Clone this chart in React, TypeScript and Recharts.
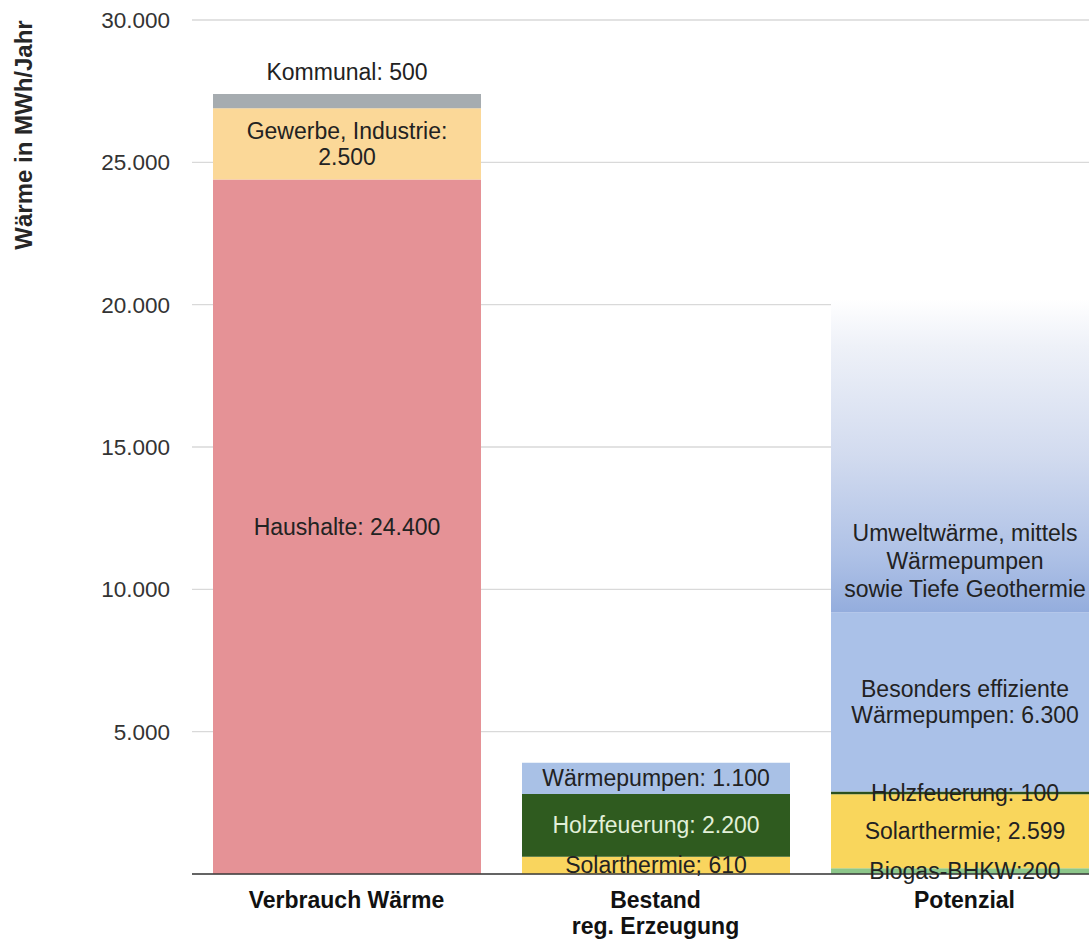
import React from 'react';
import { BarChart, Bar, XAxis, YAxis, CartesianGrid } from 'recharts';

const categories = ['Verbrauch Wärme', 'Bestand\nreg. Erzeugung', 'Potenzial'];
const haushalte = [24400, null, null];
const gewerbe = [2500, null, null];
const kommunal = [500, null, null];
const solarBestand = [null, 610, null];
const holzBestand = [null, 2200, null];
const wpBestand = [null, 1100, null];
const biogas = [null, null, 200];
const solarPot = [null, null, 2599];
const holzPot = [null, null, 100];
const wpEffizient = [null, null, 6300];
const umwelt = [null, null, 11000];
const yTicks = [5000, 10000, 15000, 20000, 25000, 30000];

const FONT = '"Liberation Sans", Arial, sans-serif';

const fmt = (v: number) => String(v).replace(/\B(?=(\d{3})+(?!\d))/g, '.');

type Series = {
  key: string;
  values: (number | null)[];
  color: string;
  text?: string;
  lines: (v: number) => string[];
  place?: 'center' | 'above' | 'bottom';
  offset?: number;
  lh?: number;
};

const series: Series[] = [
  { key: 'haushalte', values: haushalte, color: '#E59296', lines: (v) => [`Haushalte: ${fmt(v)}`] },
  { key: 'gewerbe', values: gewerbe, color: '#FBD898', lines: (v) => ['Gewerbe, Industrie:', fmt(v)], lh: 26 },
  { key: 'kommunal', values: kommunal, color: '#A6ACB0', lines: (v) => [`Kommunal: ${fmt(v)}`], place: 'above', offset: 22 },
  { key: 'solarBestand', values: solarBestand, color: '#F9D55E', lines: (v) => [`Solarthermie; ${fmt(v)}`] },
  { key: 'holzBestand', values: holzBestand, color: '#2F5B1F', text: '#E2F0D9', lines: (v) => [`Holzfeuerung: ${fmt(v)}`] },
  { key: 'wpBestand', values: wpBestand, color: '#A9C1E6', lines: (v) => [`Wärmepumpen: ${fmt(v)}`] },
  { key: 'biogas', values: biogas, color: '#8CC68A', lines: (v) => [`Biogas-BHKW:${fmt(v)}`] },
  { key: 'solarPot', values: solarPot, color: '#F9D65C', lines: (v) => [`Solarthermie; ${fmt(v)}`] },
  { key: 'holzPot', values: holzPot, color: '#2B4F1E', lines: (v) => [`Holzfeuerung: ${fmt(v)}`] },
  { key: 'wpEffizient', values: wpEffizient, color: '#AAC1E8', lines: (v) => ['Besonders effiziente', `Wärmepumpen: ${fmt(v)}`], lh: 26 },
  {
    key: 'umwelt', values: umwelt, color: 'url(#umweltGrad)',
    lines: () => ['Umweltwärme, mittels', 'Wärmepumpen', 'sowie Tiefe Geothermie'],
    place: 'bottom', offset: 51, lh: 28,
  },
];

const data = categories.map((name, i) => {
  const row: Record<string, any> = { name };
  series.forEach((s) => {
    row[s.key] = s.values[i];
  });
  return row;
});

const makeLabel = (s: Series) => (props: any) => {
  const vb = props.viewBox || props;
  const x = Number(vb.x);
  const y = Number(vb.y);
  const w = Number(vb.width);
  const h = Number(vb.height);
  if (!(h > 0.5) || !isFinite(x) || !isFinite(y)) return null;
  const v = s.values.find((d) => d != null);
  if (v == null) return null;
  const cx = x + w / 2;
  let cy = y + h / 2;
  if (s.place === 'above') cy = y - (s.offset || 0);
  if (s.place === 'bottom') cy = y + h - (s.offset || 0);
  const lines = s.lines(v);
  const lh = s.lh || 26;
  const start = cy - ((lines.length - 1) * lh) / 2;
  return (
    <text
      key={`lbl-${s.key}-${props.index}`}
      textAnchor="middle"
      fontFamily={FONT}
      fontSize={23}
      fill={s.text || '#222'}
    >
      {lines.map((ln, k) => (
        <tspan key={k} x={cx} y={start + k * lh} dy="0.35em">
          {ln}
        </tspan>
      ))}
    </text>
  );
};

const XTick = (props: any) => {
  const { x, y, payload } = props;
  const lines = String(payload.value).split('\n');
  return (
    <text textAnchor="middle" fontFamily={FONT} fontSize={23} fontWeight="bold" fill="#111">
      {lines.map((ln, k) => (
        <tspan key={k} x={x} y={y + 34 + k * 26}>
          {ln}
        </tspan>
      ))}
    </text>
  );
};

const YTick = (props: any) => {
  const { x, y, payload } = props;
  return (
    <text x={x} y={y} dy="0.35em" textAnchor="end" fontFamily={FONT} fontSize={22.5} fill="#333">
      {fmt(payload.value)}
    </text>
  );
};

const YTitle = (props: any) => {
  const vb = props.viewBox || { x: 0, y: 20 };
  const cx = vb.x + 24;
  const cy = vb.y + 115;
  return (
    <text
      x={cx}
      y={cy}
      dy="0.35em"
      textAnchor="middle"
      transform={`rotate(-90, ${cx}, ${cy})`}
      fontFamily={FONT}
      fontSize={24}
      fontWeight="bold"
      fill="#262626"
    >
      Wärme in MWh/Jahr
    </text>
  );
};

export default function App() {
  return (
    <div
      style={{
        position: 'absolute',
        left: 0,
        top: 0,
        width: 1089,
        height: 942,
        overflow: 'hidden',
        background: '#fff',
      }}
    >
      <BarChart
        width={1119}
        height={942}
        data={data}
        margin={{ top: 20, right: 0, left: 0, bottom: 0 }}
        barSize={268}
      >
        <defs>
          <linearGradient id="umweltGrad" x1="0" y1="0" x2="0" y2="1">
            <stop offset="0%" stopColor="#ffffff" />
            <stop offset="15%" stopColor="#eef1f8" />
            <stop offset="50%" stopColor="#d2dbef" />
            <stop offset="82%" stopColor="#aec1e6" />
            <stop offset="100%" stopColor="#94addd" />
          </linearGradient>
        </defs>
        <CartesianGrid vertical={false} stroke="#D9D9D9" strokeWidth={1.3} />
        <XAxis
          dataKey="name"
          height={68}
          interval={0}
          tickLine={false}
          tickSize={0}
          tickMargin={0}
          axisLine={{ stroke: '#3a3a3a', strokeWidth: 1.3 }}
          tick={<XTick />}
        />
        <YAxis
          width={192}
          domain={[0, 30000]}
          ticks={yTicks}
          interval={0}
          axisLine={false}
          tickLine={false}
          tickSize={0}
          tickMargin={22}
          tick={<YTick />}
          label={<YTitle />}
        />
        {series.map((s) => (
          <Bar
            key={s.key}
            dataKey={s.key}
            stackId="a"
            fill={s.color}
            isAnimationActive={false}
            label={makeLabel(s)}
          />
        ))}
      </BarChart>
    </div>
  );
}
